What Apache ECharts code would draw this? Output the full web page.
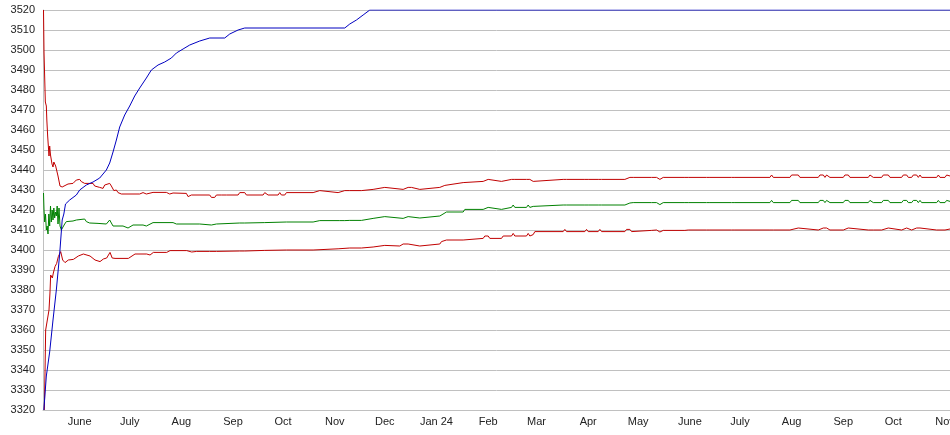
<!DOCTYPE html>
<html>
<head>
<meta charset="utf-8">
<script src="https://cdn.jsdelivr.net/npm/echarts@6/dist/echarts.min.js"></script>
<style>html,body{margin:0;padding:0;background:#fff}#c{width:950px;height:435px}</style>
</head>
<body>
<div id="c"></div>
<script>
// x values are day offsets from 2023-05-24
const monthTickDays = [22,52,83,114,144,175,205,236,267,296,327,357,388,418,449,480,510,541];
const monthLabels = ['June','July','Aug','Sep','Oct','Nov','Dec','Jan 24','Feb','Mar','Apr','May','June','July','Aug','Sep','Oct','Nov'];
const yTicks = {min:3320, max:3520, step:10};

const blueLine = [[0.5,3320],[2,3337],[4,3349],[6,3365],[8,3380],[10,3398],[11.5,3415],[12.5,3418],[13.5,3423],[16,3425],[20,3427.5],[22,3430],[26,3432.5],[30,3434],[34,3436],[38,3440],[40,3443.5],[42,3449],[44,3455],[46,3461.5],[49,3467.5],[52,3472],[55,3477],[58,3481],[62,3486],[65,3490],[69,3492.5],[73,3494],[77,3496],[80,3498.5],[84,3500.5],[88,3502.5],[94,3504.5],[100,3506],[109,3506],[112,3508],[117,3510],[121,3511],[181,3511],[184,3513],[188,3515],[192,3517.5],[196,3520],[544,3520]];

const upperRed = [[0.3,3520],[0.6,3499],[1.2,3499],[1.4,3474],[2,3472],[2.3,3465],[2.8,3457],[3.3,3457],[3.6,3447],[4,3452],[4.5,3447.5],[5,3447],[5.4,3443],[6,3441.5],[6.5,3444],[7,3443],[7.6,3442],[8.2,3441],[9,3437],[10.2,3432],[11.5,3431.5],[12.5,3432.5],[15,3433],[18,3433.3],[20,3435],[22,3435.3],[23,3434.2],[25,3433.3],[30,3433.3],[31,3432],[34,3431.3],[36,3430.8],[37,3432.5],[40,3433.3],[41,3432],[42.5,3429.7],[44,3430],[45,3428.7],[47,3428],[58,3428],[60,3428.7],[62,3428],[66,3428.8],[74,3428.8],[76,3428],[78,3428.5],[86,3428.3],[87,3426.7],[89,3427.5],[100,3427.5],[101,3426.3],[103,3426.3],[104,3427.5],[107,3427.5],[108,3426.5],[110,3427.5],[117,3427.5],[118,3428.7],[121,3428.7],[122,3427.5],[132,3427.5],[133,3428.7],[135,3427.5],[141,3427.5],[142,3428.7],[143,3427.5],[145,3427.5],[146,3428.7],[162,3428.7],[163,3429.7],[166,3429.7],[167,3428.7],[177,3428.7],[178,3429.7],[181,3429.7],[182,3428.7],[184,3429.7],[191,3429.7],[192,3430.3],[198,3430.3],[199,3431.3],[205,3431.3],[206,3430.3],[216,3430.3],[217,3431.3],[219,3431.3],[220,3430.3],[221,3431.3],[222,3430.3],[226,3430.3],[227,3431.3],[238,3431.3],[239,3432.3],[241,3432.3],[242,3433.3],[252,3433.7],[253,3434.3],[264,3434.3],[265,3435.3],[267,3435.3],[268,3434.3],[275,3434.3],[276,3435.3],[281,3435.3],[282,3436.3],[283,3435.3],[290,3435.3],[291,3436.3],[292,3435.3],[294,3434.3],[295,3435.3],[312,3435.3],[313,3436.3],[314,3435.3],[325,3435.3],[326,3436.3],[327,3435.3],[333,3435.3],[334,3436.3],[335,3435.3],[349,3435.3],[350,3436.3],[352,3436.3],[353,3435.3],[354,3436.3],[365,3436.3],[366,3435.3],[368,3436.3],[370,3435.3],[372,3436.3],[385,3436.3],[386,3435.3],[387,3436.3],[398,3436.3],[399,3435.3],[400,3436.3],[413,3436.3],[414,3435.3],[415,3436.3],[436,3436.3],[437,3437.5],[438,3436.3],[448,3436.3],[449,3437.5],[453,3437.5],[454,3436.3],[465,3436.3],[466,3437.5],[468,3437.5],[469,3436.3],[470,3437.5],[472,3436.3],[480,3436.3],[481,3437.5],[483,3437.5],[484,3436.3],[495,3436.3],[496,3437.5],[498,3436.3],[503,3436.3],[504,3437.5],[507,3437.5],[508,3436.3],[515,3436.3],[516,3437.5],[518,3437.5],[519,3436.3],[521,3436.3],[522,3437.5],[524,3437.5],[525,3436.3],[526,3437.5],[527,3436.3],[536,3436.3],[537,3437.5],[538,3436.3],[541,3436.3],[542,3437.5],[544,3437]];

const greenLine = [[0.3,3428.5],[0.6,3420],[1,3414],[1.5,3418],[2,3410],[2.5,3412],[3,3408],[3.5,3418],[4,3412],[4.5,3422],[5,3414],[5.5,3420],[6,3415],[6.5,3421],[7,3416],[7.5,3419],[8,3417],[8.5,3422],[9,3413],[9.6,3421],[10.2,3412],[11,3410],[12,3411.5],[13,3413],[14,3414.2],[18,3414.5],[20,3415],[25,3415.5],[26,3414.2],[28,3413.5],[33,3413.3],[38,3413],[40,3415],[42,3412],[48,3412],[51,3411],[54,3412.5],[60,3412.5],[62,3412],[66,3413.7],[78,3413.7],[80,3413],[94,3413],[101,3412.5],[104,3413],[118,3413.5],[121,3413.5],[122,3413],[133,3413.7],[146,3414],[162,3414],[163,3414.7],[166,3414.7],[167,3414],[178,3414.7],[181,3414.7],[182,3414],[184,3414.8],[191,3414.8],[192,3415.8],[198,3415.8],[199,3416.7],[205,3416.7],[206,3415.8],[216,3415.8],[217,3416.7],[219,3416.7],[220,3416],[226,3416],[227,3417],[238,3417],[239,3418],[242,3419],[252,3419],[253,3420.3],[264,3420.3],[265,3421.3],[267,3421.3],[268,3420.3],[275,3420.3],[276,3421.3],[281,3421.3],[282,3422.5],[283,3421.3],[290,3421.3],[291,3422.5],[292,3421.3],[294,3421.8],[295,3422.5],[312,3422.5],[313,3423.5],[314,3422.5],[325,3422.5],[326,3423.5],[327,3422.5],[333,3422.5],[334,3423.5],[335,3422.5],[349,3422.5],[350,3423.5],[352,3423.5],[353,3422.5],[354,3423.7],[365,3423.7],[366,3422.7],[368,3423.7],[370,3422.7],[372,3423.7],[385,3423.7],[386,3422.7],[387,3423.7],[398,3423.7],[399,3422.7],[400,3423.7],[413,3423.7],[414,3422.7],[415,3423.7],[436,3423.7],[437,3424.8],[438,3423.7],[448,3423.7],[449,3424.8],[453,3424.8],[454,3423.7],[465,3423.7],[466,3424.8],[468,3424.8],[469,3423.7],[470,3424.8],[472,3423.7],[480,3423.7],[481,3424.8],[483,3424.8],[484,3423.7],[495,3423.7],[496,3424.8],[498,3423.7],[503,3423.7],[504,3424.8],[507,3424.8],[508,3423.7],[515,3423.7],[516,3424.8],[518,3424.8],[519,3423.7],[521,3423.7],[522,3424.8],[524,3424.8],[525,3423.7],[526,3424.8],[527,3423.7],[536,3423.7],[537,3424.8],[538,3423.7],[541,3423.7],[542,3424.8],[544,3424.3]];

const lowerRed = [[0.8,3320],[1.2,3338.5],[1.6,3360],[2.8,3366],[3.6,3370],[4.2,3379],[4.6,3387.5],[5.6,3386],[6.2,3388.5],[7.2,3391.7],[8.2,3393.3],[9.2,3396.7],[10.6,3399.2],[11.8,3395],[13.2,3393.7],[15.2,3395],[18.2,3395.3],[21.2,3397],[24.2,3398],[28.2,3397],[31.2,3395],[34.2,3394.2],[36.2,3395.5],[38.2,3396],[40.2,3398.8],[41.5,3396],[43.2,3395.8],[51.2,3395.8],[52.2,3395.2],[55.2,3398],[62.2,3398],[64.2,3397.5],[66.2,3398.8],[74.2,3398.8],[76.2,3399.7],[86.2,3399.7],[89.2,3399],[92.2,3399.3],[100,3399.3],[101,3398.8],[104,3399.3],[118,3399.5],[121,3399.5],[122,3399.3],[133,3399.8],[146,3400],[162,3400],[163,3400.6],[177,3400.6],[184,3401],[191,3401],[192,3401.5],[198,3401.5],[199,3402.3],[205,3402.3],[206,3401.8],[214,3402],[216,3403],[219,3403],[220,3402],[226,3402],[227,3403],[238,3403],[239,3404.2],[242,3405],[252,3405],[253,3405.8],[264,3405.8],[265,3407],[267,3407],[268,3405.8],[275,3405.8],[276,3407],[281,3407],[282,3408.3],[283,3407],[290,3407],[291,3408.3],[292,3407],[294,3407.7],[295,3409.2],[312,3409.2],[313,3410.3],[314,3409.2],[325,3409.2],[326,3410.3],[327,3409.2],[333,3409.2],[334,3410.3],[335,3409.2],[349,3409.2],[350,3410.3],[352,3410.3],[353,3409.2],[354,3409.8],[365,3409.8],[366,3409],[368,3410],[370,3409],[372,3409.8],[385,3409.8],[386,3409],[387,3410],[398,3410],[399,3409],[400,3410],[413,3410],[414,3409],[415,3410],[436,3410],[437,3411],[438,3410],[448,3410],[449,3411],[453,3411],[454,3410],[465,3410],[466,3411],[468,3411],[469,3410],[470,3411],[472,3410],[480,3410],[481,3411],[483,3411],[484,3410],[495,3410],[496,3411],[498,3410],[503,3410],[504,3411],[507,3411],[508,3410],[515,3410],[516,3411],[518,3411],[519,3410],[521,3410],[522,3411],[524,3411],[525,3410],[526,3411],[527,3410],[536,3410],[537,3411],[538,3410],[541,3410],[542,3411],[544,3410.5]];

const chart = echarts.init(document.getElementById('c'), null, {renderer:'canvas'});
const font = 'Liberation Sans, Arial, sans-serif';
function line(data, color, z) {
  return {type:'line', data:data, showSymbol:false, symbol:'none', z:z,
    lineStyle:{color:color, width:1}, itemStyle:{color:color}, emphasis:{disabled:true}};
}
chart.setOption({
  animation:false,
  backgroundColor:'#ffffff',
  grid:{left:43, right:0, top:10, bottom:25, containLabel:false, outerBoundsMode:'none'},
  xAxis:{
    type:'value', min:0, max:544,
    axisLine:{show:true, lineStyle:{color:'#c0c0c0', width:1}},
    axisTick:{show:false},
    splitLine:{show:false},
    axisLabel:{
      customValues: monthTickDays,
      formatter: function(v){ const i = monthTickDays.indexOf(v); return i >= 0 ? monthLabels[i] : ''; },
      color:'#222', fontFamily:font, fontSize:11, margin:6,
      hideOverlap:false
    }
  },
  yAxis:{
    type:'value', min:yTicks.min, max:yTicks.max, interval:yTicks.step,
    axisLine:{show:true, lineStyle:{color:'#c0c0c0', width:1}},
    axisTick:{show:false},
    splitLine:{show:true, lineStyle:{color:'#c0c0c0', width:1}},
    axisLabel:{color:'#222', fontFamily:font, fontSize:11, margin:8,
      formatter: function(v){ return String(v); }}
  },
  series:[
    line(upperRed, '#c00000', 2),
    line(greenLine, '#008000', 2),
    line(lowerRed, '#c00000', 2),
    line(blueLine, '#0000c0', 3)
  ]
});
</script>
</body>
</html>
